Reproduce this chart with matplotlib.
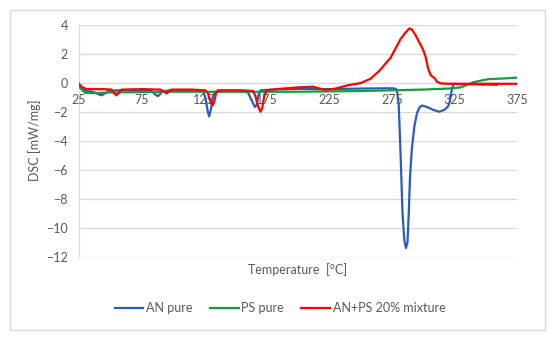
import matplotlib
matplotlib.use('Agg')
from matplotlib import pyplot as plt
from matplotlib.patches import Rectangle

# temperature [°C] and DSC [mW/mg]
an_t = [25, 27, 30, 36, 40, 43, 46, 48, 55, 70, 83, 86, 88, 90, 92, 100, 115, 124, 126, 128,
        129, 130.5, 132, 134, 140, 155, 160, 163, 165.5, 167, 168.5, 170, 180, 200, 225, 250,
        270, 277, 279, 280.5, 282, 283.5, 285, 286.3, 287.5, 288.5, 289.5, 291, 293, 295, 297,
        299, 303, 308, 313, 317, 320, 321.5, 323, 324.5, 330, 345, 359]
an_v = [-0.1, -0.35, -0.55, -0.6, -0.75, -0.85, -0.7, -0.55, -0.5, -0.5, -0.55, -0.8, -0.9,
        -0.75, -0.55, -0.5, -0.5, -0.55, -1.0, -2.0, -2.3, -1.8, -0.9, -0.6, -0.55, -0.55,
        -0.65, -1.2, -1.65, -1.5, -0.8, -0.5, -0.45, -0.4, -0.42, -0.38, -0.36, -0.37, -0.45,
        -1.5, -5.0, -9.0, -10.9, -11.4, -11.0, -9.0, -6.5, -4.5, -3.0, -2.1, -1.7, -1.55,
        -1.65, -1.85, -1.98, -1.85, -1.6, -1.2, -0.4, -0.05, -0.08, -0.1, -0.12]

ps_t = [25, 27, 30, 35, 50, 100, 150, 200, 250, 275, 300, 320, 330, 340, 345, 352, 365, 375]
ps_v = [-0.2, -0.45, -0.68, -0.7, -0.65, -0.6, -0.6, -0.6, -0.55, -0.5, -0.45, -0.38, -0.3,
        0.05, 0.15, 0.27, 0.32, 0.38]

mix_t = [25, 27, 31, 45, 51, 53, 55, 57, 59, 75, 90, 93, 95, 97, 99, 115, 126, 128, 130,
         131.8, 133, 134.5, 136, 155, 164, 166, 168, 170, 171.5, 173, 175, 185, 200, 212, 218,
         222, 230, 240, 250, 258, 265, 270, 274, 278, 282, 286, 289, 291, 294, 297, 300, 302,
         304, 306, 309, 311, 314, 320, 375]
mix_v = [-0.05, -0.25, -0.42, -0.42, -0.45, -0.7, -0.85, -0.65, -0.45, -0.42, -0.45, -0.6,
         -0.72, -0.55, -0.45, -0.45, -0.5, -0.7, -1.3, -1.55, -1.3, -0.7, -0.5, -0.5, -0.55,
         -0.9, -1.6, -1.98, -1.7, -0.9, -0.5, -0.4, -0.3, -0.25, -0.4, -0.48, -0.38, -0.15,
         0.0, 0.3, 0.85, 1.35, 1.75, 2.4, 3.05, 3.5, 3.78, 3.7, 3.3, 2.8, 2.3, 1.8, 1.0, 0.55,
         0.35, 0.1, -0.02, -0.05, -0.05]

x_ticks = [25, 75, 125, 175, 225, 275, 325, 375]
y_ticks = [4, 2, 0, -2, -4, -6, -8, -10, -12]

plt.rcParams['font.family'] = ['Lato', 'DejaVu Sans']
fig = plt.figure(figsize=(5.5, 3.39), dpi=100)
fig.patches.append(Rectangle((10 / 550, 1 - 330 / 339), 535 / 550, 320 / 339,
                             transform=fig.transFigure, fill=False, ec='#d9d9d9', lw=1))
ax = fig.add_axes([79 / 550, 1 - 256.7 / 339, (517 - 79) / 550, (256.7 - 25.2) / 339])

ax.plot(an_t, an_v, color='#2a5cbf', lw=1.6, label='AN pure')
ax.plot(ps_t, ps_v, color='#12a03c', lw=1.6, label='PS pure')
ax.plot(mix_t, mix_v, color='#ff0000', lw=1.6, label='AN+PS 20% mixture')

ax.set_xlim(25, 375)
ax.set_ylim(-12, 4)
ax.set_xticks(x_ticks)
ax.set_yticks(y_ticks)
ax.set_yticklabels([str(v).replace('-', '\u2212') for v in y_ticks])
ax.grid(axis='y', color='#d9d9d9', lw=0.9)
ax.set_axisbelow(True)
for s in ['top', 'right']:
    ax.spines[s].set_visible(False)
ax.spines['left'].set_color('#d9d9d9')
ax.spines['left'].set_zorder(0.5)
ax.spines['bottom'].set_position(('data', 0))
ax.spines['bottom'].set_color('#bfbfbf')
ax.spines['bottom'].set_zorder(0.5)
ax.tick_params(length=0, labelsize=9, colors='#595959')
ax.tick_params(axis='x', pad=8)
ax.tick_params(axis='y', pad=8)

fig.text(298 / 550, 1 - 270 / 339, 'Temperature  [°C]', ha='center', va='center',
         fontsize=9, color='#595959')
fig.text(35 / 550, 1 - 140 / 339, 'DSC [mW/mg]', ha='center', va='center', rotation=90,
         fontsize=9, color='#595959')
fig.legend(loc='center', bbox_to_anchor=(280 / 550, 1 - 308 / 339), ncol=3, frameon=False,
           fontsize=9, handlelength=2.3, handletextpad=0.2, columnspacing=1.4,
           labelcolor='#595959')

fig.savefig('out.png', dpi=100)
